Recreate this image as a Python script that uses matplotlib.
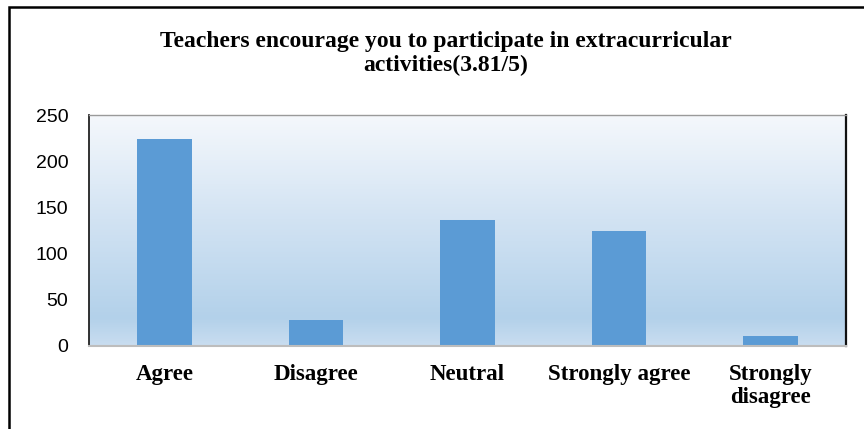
import numpy as np
import matplotlib.pyplot as plt
from matplotlib.colors import LinearSegmentedColormap
from matplotlib.patches import Rectangle

categories = ['Agree', 'Disagree', 'Neutral', 'Strongly agree', 'Strongly\ndisagree']
counts = [224, 28, 136, 124, 11]
yticks = [0, 50, 100, 150, 200, 250]

fig = plt.figure(figsize=(8.64, 4.29), dpi=100)
ax = fig.add_axes([89/864, 1 - 346/429, (846-89)/864, (346-115)/429])

# gradient background of plot area (top light -> blue near bottom)
grad = LinearSegmentedColormap.from_list('bg', [(0, '#c9ddf0'), (0.12, '#b3d1ea'),
                                                 (0.55, '#d2e3f3'), (1, '#f5f8fc')])
ax.imshow(np.linspace(0, 1, 256).reshape(-1, 1), cmap=grad, aspect='auto',
          extent=[0, 1, 0, 1], transform=ax.transAxes, origin='lower', zorder=0)

x = np.arange(len(categories))
ax.bar(x, counts, width=0.36, color='#5b9bd5', zorder=2)
ax.set_xlim(-0.5, len(categories) - 0.5)
ax.set_ylim(0, 250)
ax.set_yticks(yticks)
ax.set_xticks(x)
ax.set_xticklabels(categories, fontfamily='Liberation Serif', fontweight='bold',
                   fontsize=16.5, linespacing=1.15, va='top')
ax.tick_params(axis='x', length=0, pad=13)
ax.tick_params(axis='y', length=0, pad=15, labelsize=14)
for lab in ax.get_yticklabels():
    lab.set_fontfamily('Liberation Sans')

ax.spines['left'].set_color('#222222')
ax.spines['left'].set_linewidth(1.3)
ax.spines['right'].set_color('#111111')
ax.spines['right'].set_linewidth(1.6)
ax.spines['top'].set_color('#9a9a9a')
ax.spines['top'].set_linewidth(1.0)
ax.spines['bottom'].set_color('#bdbdbd')
ax.spines['bottom'].set_linewidth(1.5)

fig.text(446/864, 1 - 41/429, 'Teachers encourage you to participate in extracurricular',
         ha='center', va='center', fontfamily='Liberation Serif', fontweight='bold', fontsize=17)
fig.text(446/864, 1 - 65/429, 'activities(3.81/5)',
         ha='center', va='center', fontfamily='Liberation Serif', fontweight='bold', fontsize=17)

# outer chart border
fig.patches.append(Rectangle((9/864, -0.05), 1.05, 1 - 7/429 + 0.05, transform=fig.transFigure,
                             fill=False, edgecolor='black', linewidth=1.8))

fig.savefig('out.png', dpi=100)
